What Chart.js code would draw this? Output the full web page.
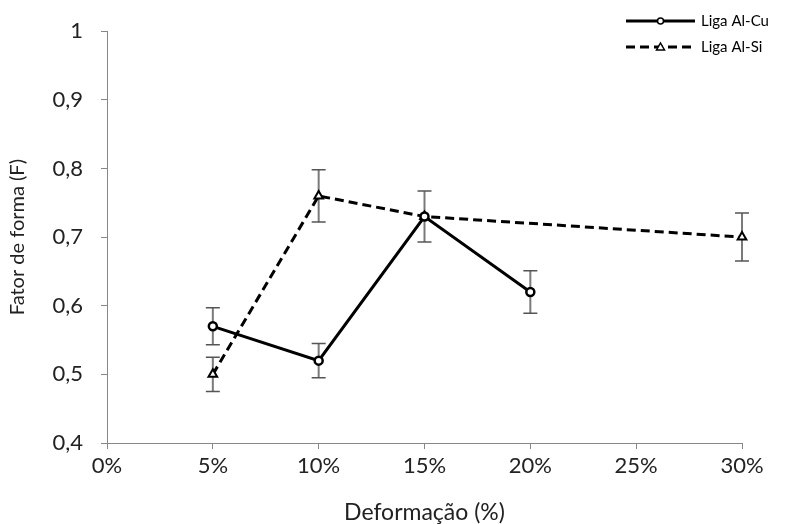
<!DOCTYPE html>
<html><head><meta charset="utf-8">
<script src="https://cdn.jsdelivr.net/npm/chart.js@4/dist/chart.umd.min.js"></script>
<style>html,body{margin:0;padding:0;background:#fff}#wrap{width:787px;height:524px}</style>
</head><body><div id="wrap"><canvas id="c"></canvas></div>
<script>
const xTicks = [0, 0.05, 0.10, 0.15, 0.20, 0.25, 0.30];
const yTicks = [0.4, 0.5, 0.6, 0.7, 0.8, 0.9, 1];
const cuX = [0.05, 0.10, 0.15, 0.20];
const cuY = [0.57, 0.52, 0.73, 0.62];
const cuErr = [0.027, 0.025, 0.037, 0.031];
const siX = [0.05, 0.10, 0.15, 0.30];
const siY = [0.50, 0.76, 0.73, 0.70];
const siErr = [0.025, 0.038, null, 0.035];
const seriesNames = ['Liga Al-Cu', 'Liga Al-Si'];

const FONT = 'Lato, "Open Sans", sans-serif';

const errorBars = {
  id: 'errorBars',
  beforeDatasetsDraw(chart) {
    const ctx = chart.ctx, xs = chart.scales.x, ys = chart.scales.y;
    chart.data.datasets.forEach(ds => {
      ds.data.forEach((p, i) => {
        const e = ds.err[i];
        if (e == null) return;
        const px = xs.getPixelForValue(p.x);
        const t = ys.getPixelForValue(p.y + e), b = ys.getPixelForValue(p.y - e);
        ctx.save();
        ctx.strokeStyle = '#7a7a7a'; ctx.lineWidth = 2;
        ctx.beginPath(); ctx.moveTo(px, t); ctx.lineTo(px, b); ctx.stroke();
        ctx.strokeStyle = '#555'; ctx.lineWidth = 1.5;
        ctx.beginPath(); ctx.moveTo(px - 7, t); ctx.lineTo(px + 7, t);
        ctx.moveTo(px - 7, b); ctx.lineTo(px + 7, b); ctx.stroke();
        ctx.restore();
      });
    });
  }
};

const customLegend = {
  id: 'customLegend',
  afterDraw(chart) {
    const ctx = chart.ctx;
    chart.data.datasets.forEach((ds, i) => {
      const y = 21 + i * 26, x0 = 626, x1 = 695;
      ctx.save();
      ctx.strokeStyle = '#000'; ctx.lineWidth = 3;
      ctx.setLineDash(ds.borderDash || []);
      ctx.beginPath(); ctx.moveTo(x0, y); ctx.lineTo(x1, y); ctx.stroke();
      ctx.setLineDash([]);
      ctx.lineWidth = 1.5; ctx.fillStyle = '#fff';
      const cx = (x0 + x1) / 2;
      ctx.beginPath();
      if (ds.pointStyle === 'circle') { ctx.arc(cx, y, 3, 0, Math.PI * 2); }
      else { ctx.moveTo(cx, y - 4); ctx.lineTo(cx + 4, y + 3); ctx.lineTo(cx - 4, y + 3); ctx.closePath(); }
      ctx.fill(); ctx.stroke();
      ctx.fillStyle = '#000'; ctx.font = '15px ' + FONT; ctx.textBaseline = 'middle';
      ctx.fillText(ds.label, x1 + 6, y);
      ctx.restore();
    });
  }
};

new Chart(document.getElementById('c'), {
  type: 'scatter',
  data: {
    datasets: [
      { label: seriesNames[0], data: cuX.map((x, i) => ({x, y: cuY[i]})), err: cuErr, clip: false,
        showLine: true, borderColor: '#000', borderWidth: 3, pointStyle: 'circle',
        pointRadius: 4, pointBackgroundColor: '#fff', pointBorderColor: '#000', pointBorderWidth: 2.5 },
      { label: seriesNames[1], data: siX.map((x, i) => ({x, y: siY[i]})), err: siErr, clip: false,
        showLine: true, borderColor: '#000', borderWidth: 3, borderDash: [9, 5], pointStyle: 'triangle',
        pointRadius: 5, pointBackgroundColor: '#fff', pointBorderColor: '#000', pointBorderWidth: 2 }
    ]
  },
  options: {
    responsive: true, maintainAspectRatio: false, animation: false,
    layout: { padding: { left: 0, top: 29, right: 45, bottom: 0 } },
    plugins: { legend: { display: false }, tooltip: { enabled: false } },
    scales: {
      x: {
        type: 'linear', min: 0, max: 0.30,
        afterBuildTicks: s => { s.ticks = xTicks.map(v => ({value: v})); },
        afterFit: s => { s.height = 81; },
        grid: { display: true, drawOnChartArea: false, tickLength: 6, color: '#888' },
        border: { color: '#888', width: 1 },
        ticks: { color: '#222', padding: 4, font: { size: 22, family: FONT },
          callback: v => Math.round(v * 100) + '%' },
        title: { display: true, text: 'Deformação (%)', color: '#222', font: { size: 23, family: FONT, lineHeight: 1 }, padding: { top: 0, bottom: 0 } }
      },
      y: {
        min: 0.4, max: 1,
        afterBuildTicks: s => { s.ticks = yTicks.map(v => ({value: v})); },
        afterFit: s => { s.width = 107; },
        grid: { display: true, drawOnChartArea: false, tickLength: 6, color: '#888' },
        border: { color: '#888', width: 1 },
        ticks: { color: '#222', padding: 18, font: { size: 22, family: FONT },
          callback: v => (Math.round(v * 10) / 10).toString().replace('.', ',') },
        title: { display: true, text: 'Fator de forma (F)', color: '#222', font: { size: 20, family: FONT, lineHeight: 1 }, padding: { top: 8, bottom: 0 } }
      }
    }
  },
  plugins: [errorBars, customLegend]
});
</script></body></html>
